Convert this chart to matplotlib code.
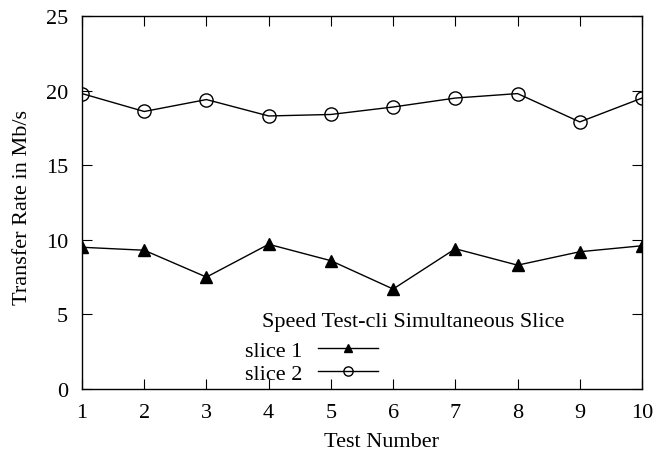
import matplotlib
matplotlib.use('Agg')
import matplotlib.pyplot as plt

plt.rcParams['font.family'] = ['Liberation Serif', 'DejaVu Serif']

tests = [1, 2, 3, 4, 5, 6, 7, 8, 9, 10]
slice1 = [9.5, 9.3, 7.5, 9.7, 8.6, 6.7, 9.4, 8.3, 9.2, 9.6]
slice2 = [19.8, 18.6, 19.4, 18.3, 18.4, 18.9, 19.5, 19.8, 17.9, 19.5]

fig = plt.figure(figsize=(6.7, 4.6), dpi=100)
ax = fig.add_axes([82 / 670, 70 / 460, 560 / 670, 373 / 460])

ax.plot(tests, slice1, color='black', lw=1, marker='^', ms=8, label='slice 1')
ax.plot(tests, slice2, color='black', lw=1, marker='o', ms=9.5,
        markerfacecolor='none', markeredgewidth=1, label='slice 2')

ax.set_xlim(1, 10)
ax.set_ylim(0, 25)
ax.set_xticks(tests)
ax.set_yticks([0, 5, 10, 15, 20, 25])
ax.tick_params(direction='in', top=True, right=True, length=7, labelsize=16, pad=10)
for s in ax.spines.values():
    s.set_linewidth(1)

ax.set_xlabel('Test Number', fontsize=16)
ax.set_ylabel('Transfer Rate in Mb/s', fontsize=16)
ax.xaxis.set_label_coords(0.534, -0.115)
ax.yaxis.set_label_coords(-0.089, 0.488)

# key title drawn as text so it sits where gnuplot puts it
ax.text(0.321, 0.169, 'Speed Test-cli Simultaneous Slice', fontsize=16,
        transform=ax.transAxes, va='baseline', ha='left')

leg = ax.legend(frameon=False, markerfirst=False, handlelength=2.7,
                fontsize=16, loc='upper left', bbox_to_anchor=(0.291, 0.13),
                labelspacing=0.1, borderaxespad=0, borderpad=0,
                handletextpad=0.72, markerscale=0.7)

fig.savefig('out.png', dpi=100)
